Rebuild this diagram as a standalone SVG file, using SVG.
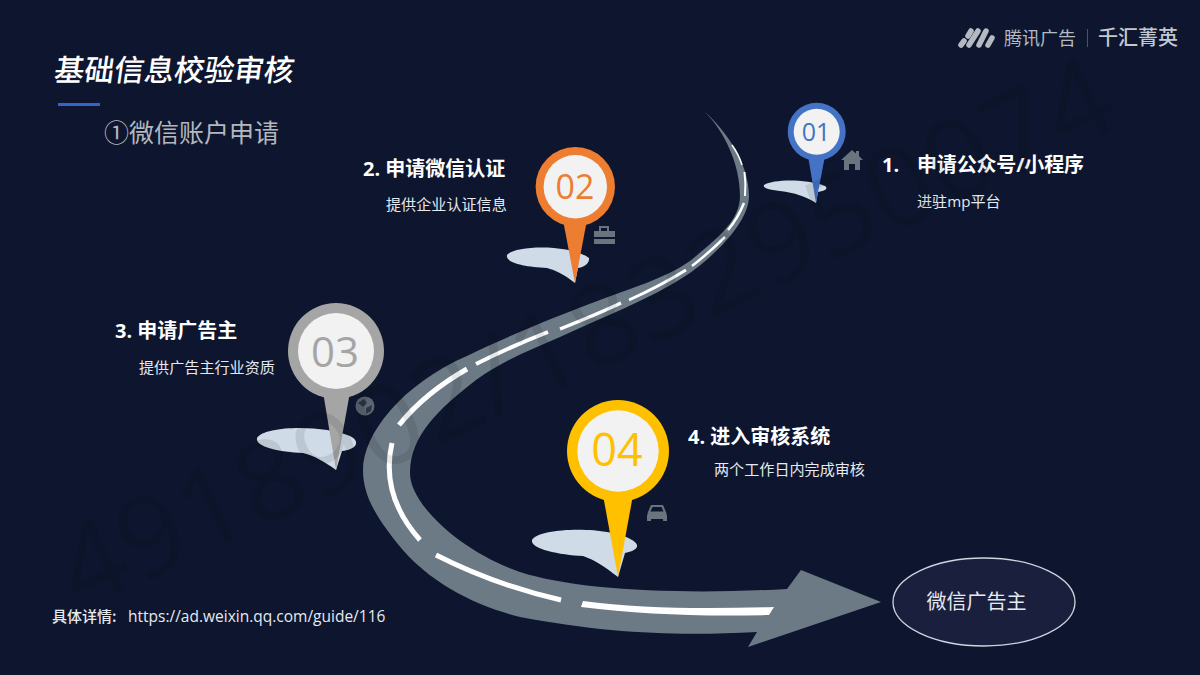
<svg xmlns="http://www.w3.org/2000/svg" width="1200" height="675" viewBox="0 0 1200 675">
<style>
text{font-family:"Open Sans","Noto Sans CJK SC",sans-serif}
.cjk{font-family:"Noto Sans CJK SC","Open Sans",sans-serif}
.head{font-size:20px;font-weight:700;fill:#fff}
.sub{font-size:15.1px;fill:#e6e9ee}
.num{text-anchor:middle}
.inner{fill:#f2f2f2}
.shadow{fill:#cfdbe6}
.icon{fill:#69747f}
.dash{fill:none;stroke:#fff;stroke-linecap:butt}
.logo{stroke:#b4b9c2;stroke-width:5.5;stroke-linecap:round}
</style>
<rect width="1200" height="675" fill="#0d162e"/>

<g id="title">
<text class="cjk" transform="translate(53 81) skewX(-8)" font-size="30" font-weight="500" fill="#fff">基础信息校验审核</text>
<rect x="58" y="103" width="42" height="3" fill="#3563c9"/>
<text class="cjk" x="104" y="142" font-size="25" fill="#b4b8bd">①微信账户申请</text>
</g>

<g id="logo">
<line class="logo" x1="961" y1="45" x2="964" y2="41"/>
<line class="logo" x1="969" y1="45" x2="978" y2="31"/>
<line class="logo" x1="979" y1="45" x2="986" y2="31"/>
<line class="logo" x1="988" y1="45" x2="992" y2="38"/>
<line class="logo" x1="968" y1="36" x2="971" y2="31"/>
<text class="cjk" x="1004" y="45" font-size="18" fill="#b4b9c2">腾讯广告</text>
<rect x="1087" y="29" width="1" height="18" fill="#4a5263"/>
<text class="cjk" x="1098" y="45" font-size="20" font-weight="500" fill="#c4c8cf">千汇菁英</text>
</g>

<g id="connectors">
<path id="road" fill="#6c7a86" d="M705,112 C722,127 749,160 749,196 C749,222 716,254 690,273 C650,300 600,318 560,337 C530,350 500,362 476,380 C440,408 410,435 410,473 C410,505 462,552 520,572 C575,590 680,595 787,589 L801,570 L881,602 L748,647 L757,632 C680,636 610,634 520,617 C480,607 430,585 397,543 C375,515 363,495 363,470 C363,435 400,385 469,355 C510,335 560,315 600,300 C640,285 665,278 690,261 C715,240 740,222 740,196 C740,165 725,132 705,112 Z"/>
<g id="dashes">
<path class="dash" stroke-width="1.500" d="M732,145 Q739,155 742,165"/>
<path class="dash" stroke-width="2" d="M744.500,172 Q746,184 745,196"/>
<path class="dash" stroke-width="2.500" d="M744,203 Q738,218 728,230"/>
<path class="dash" stroke-width="2.500" d="M725,237 Q710,252 692,266"/>
<path class="dash" stroke-width="3" d="M686,270 Q660,286 629,300"/>
<path class="dash" stroke-width="3.500" d="M621,303 Q600,313 560,329"/>
<path class="dash" stroke-width="4" d="M548,332 Q512,346 476,364"/>
<path class="dash" stroke-width="5" d="M467,369 Q425,393 399,425"/>
<path class="dash" stroke-width="5" d="M392,443 Q380,495 420,540"/>
<path class="dash" stroke-width="5" d="M436,555 Q495,585 561,600"/>
<path fill="#fff" d="M583,601 C640,609 710,609 774,607 L769,615 C700,617 640,614 581,607 Z"/>
</g>
</g>

<g id="pin-01">
<path class="shadow" d="M764,185 C775,179 805,179 825,186 C829,189 824,191 818,192 L816,203 C805,196 795,193 780,191 C770,190 762,188 764,185 Z"/>
<circle cx="816.700" cy="131.700" r="29" fill="#4472c4"/>
<path fill="#4472c4" d="M808,156 L825,156 L816,203 Z"/>
<circle class="inner" cx="816.700" cy="131.700" r="23"/>
<text class="num" x="816" y="141" font-size="25" fill="#4472c4">01</text>
<path class="icon" d="M852,150 L856,153.500 L856,151 L859,151 L859,156 L863,160 L860,160 L860,170 L855,170 L855,164 L849,164 L849,170 L844,170 L844,160 L841,160 Z"/>
</g>

<g id="label-01">
<text class="head" x="882" y="172">1.</text>
<text class="head" x="917" y="172" textLength="167">申请公众号/小程序</text>
<text class="sub" x="917" y="207">进驻mp平台</text>
</g>

<g id="pin-02">
<path class="shadow" d="M507,255 C515,245 570,244 589,258 C590,264 582,268 578,268 L575,283 C565,275 555,270 547,268 C525,267 505,263 507,255 Z"/>
<circle cx="575.300" cy="186.700" r="39.700" fill="#ed7d31"/>
<path fill="#ed7d31" d="M563,220 L587,220 L575,283 Z"/>
<circle class="inner" cx="575.300" cy="186.700" r="31.700"/>
<text class="num" x="575" y="199" font-size="34" fill="#ed7d31">02</text>
<path class="icon" fill-rule="evenodd" d="M594,231 L599,231 L599,226 L609,226 L609,231 L615,231 L615,237 L594,237 Z M601,228 L607,228 L607,231 L601,231 Z M594,239 L615,239 L615,244 L594,244 Z"/>
</g>

<g id="label-02">
<text class="head" x="363" y="176">2. 申请微信认证</text>
<text class="sub" x="386" y="210">提供企业认证信息</text>
</g>

<g id="pin-03">
<path class="shadow" d="M257,438 C265,425 325,425 350,436 C362,442 355,450 342,451 L336,470 C325,462 315,456 303,453 C280,452 255,447 257,438 Z"/>
<circle cx="336" cy="351" r="48" fill="#a5a5a5"/>
<path fill="#a5a5a5" d="M323,392 L350,392 L336,470 Z"/>
<circle class="inner" cx="336" cy="351" r="38"/>
<text class="num" x="335" y="367" font-size="42" fill="#a5a5a5">03</text>
<circle class="icon" cx="365" cy="406" r="9.500" fill-opacity=".85"/>
<path d="M358,403 L364,399 L367,403 L363,407 Z M366,408 L372,405 L371,411 L366,414 Z" fill="#2c3546"/>
</g>

<g id="label-03">
<text class="head" x="115" y="338">3. 申请广告主</text>
<text class="sub" x="139" y="373">提供广告主行业资质</text>
</g>

<g id="pin-04">
<path class="shadow" d="M532,540 C540,527 610,526 632,540 C642,546 636,551 625,553 L618,577 C605,567 595,560 583,556 C560,555 530,549 532,540 Z"/>
<circle cx="618" cy="451" r="51" fill="#ffc000"/>
<path fill="#ffc000" d="M603,495 L633,495 L618,577 Z"/>
<circle class="inner" cx="618" cy="451" r="40.700"/>
<text class="num" x="617" y="466" font-size="45" fill="#ffc000">04</text>
<path class="icon" fill-rule="evenodd" d="M651,505 L663,505 L666,512 L667,516 L667,521 L663,521 L663,519 L651,519 L651,521 L647,521 L647,516 L648,512 Z M652.500,507 L650.500,511.500 L663.500,511.500 L661.500,507 Z"/>
</g>

<g id="label-04">
<text class="head" x="688" y="444">4. 进入审核系统</text>
<text class="sub" x="714" y="475">两个工作日内完成审核</text>
</g>

<g id="node-end">
<ellipse cx="984" cy="602" rx="91" ry="44" fill="#1a1f3d" stroke="#cdd5e0" stroke-width="1.300"/>
<text class="cjk" x="976.500" y="609" font-size="20" fill="#e6e9ee" text-anchor="middle">微信广告主</text>
</g>

<text class="cjk" x="52" y="622" font-size="15" font-weight="500" fill="#e6e9ee">具体详情:<tspan x="128" font-family="Open Sans" font-size="15.500" font-weight="400">https://ad.weixin.qq.com/guide/116</tspan></text>

<text id="watermark" x="80" y="612" font-size="112" fill="#000" fill-opacity=".09" transform="rotate(-25 80 612)" textLength="1150">4918902/1832950074</text>
</svg>
